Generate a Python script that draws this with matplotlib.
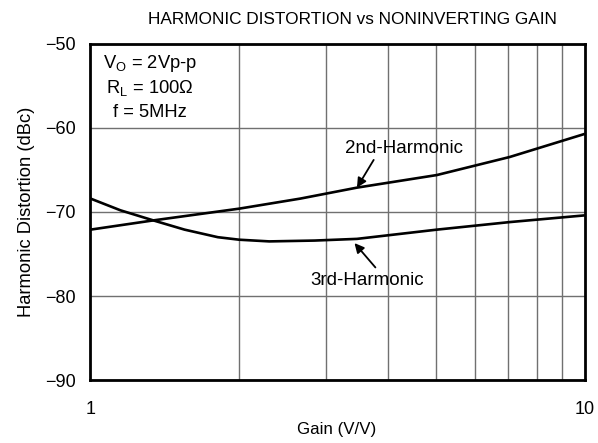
import matplotlib
matplotlib.use('Agg')
import matplotlib.pyplot as plt
from matplotlib.ticker import FixedLocator, FixedFormatter, NullFormatter

plt.rcParams['font.family'] = ['Liberation Sans', 'DejaVu Sans']
plt.rcParams['mathtext.fontset'] = 'custom'
plt.rcParams['mathtext.rm'] = 'Liberation Sans'
plt.rcParams['mathtext.it'] = 'Liberation Sans:italic'

# values
gain_2nd = [1, 1.34, 2, 2.66, 3.46, 5.02, 7.05, 10]
hd2 = [-72.1, -71.0, -69.6, -68.4, -67.1, -65.6, -63.45, -60.7]

gain_3rd = [1, 1.15, 1.34, 1.55, 1.81, 2, 2.3, 2.84, 3.46, 5.02, 7.05, 10]
hd3 = [-68.4, -69.8, -71.0, -72.1, -73.0, -73.3, -73.5, -73.4, -73.2, -72.1, -71.2, -70.4]

x_ticks = [1, 10]
x_ticklabels = ['1', '10']
y_ticks = [-90, -80, -70, -60, -50]
y_ticklabels = ['\u221290', '\u221280', '\u221270', '\u221260', '\u221250']

fig = plt.figure(figsize=(5.98, 4.43), dpi=100)
ax = fig.add_axes([0.1513, 0.1422, 0.8267, 0.7585])

ax.plot(gain_2nd, hd2, color='black', lw=1.9, solid_capstyle='butt')
ax.plot(gain_3rd, hd3, color='black', lw=1.9, solid_capstyle='butt')

ax.set_xscale('log')
ax.set_xlim(1, 10)
ax.set_ylim(-90, -50)
ax.xaxis.set_major_locator(FixedLocator(x_ticks))
ax.xaxis.set_major_formatter(FixedFormatter(x_ticklabels))
ax.xaxis.set_minor_locator(FixedLocator([2, 3, 4, 5, 6, 7, 8, 9]))
ax.xaxis.set_minor_formatter(NullFormatter())
ax.set_yticks(y_ticks)
ax.set_yticklabels(y_ticklabels)
ax.tick_params(which='both', length=0, labelsize=13, colors='black')
ax.tick_params(axis='x', pad=15)
ax.tick_params(axis='y', pad=10.5)

ax.grid(True, which='minor', axis='x', color='#707070', lw=1.0)
ax.grid(True, which='major', axis='y', color='#707070', lw=1.0)
for s in ax.spines.values():
    s.set_linewidth(2.0)

fig.text(352 / 598, 1 - 20 / 443, 'HARMONIC DISTORTION vs NONINVERTING GAIN',
         ha='center', va='center', fontsize=12.4)
ax.set_xlabel('Gain (V/V)', fontsize=12.2)
ax.xaxis.set_label_coords(0.498, -0.125)
ax.set_ylabel('Harmonic Distortion (dBc)', fontsize=13.2)
ax.yaxis.set_label_coords(-0.113, 0.5)

ax.text(1.32, -52.3, r'V$_{\mathrm{O}}$ = 2Vp-p', ha='center', va='center', fontsize=13.2)
ax.text(1.32, -55.2, r'R$_{\mathrm{L}}$ = 100$\Omega$', ha='center', va='center', fontsize=13.2)
ax.text(1.32, -58.1, 'f = 5MHz', ha='center', va='center', fontsize=13.2)

arrow = dict(arrowstyle='-|>', color='black', lw=1.3, mutation_scale=14, shrinkA=0, shrinkB=0)
ax.text(4.30, -62.5, '2nd-Harmonic', ha='center', va='center', fontsize=13.5)
ax.annotate('', xy=(3.46, -67.1), xytext=(3.74, -63.8), arrowprops=arrow)
ax.text(3.63, -78.2, '3rd-Harmonic', ha='center', va='center', fontsize=13.5)
ax.annotate('', xy=(3.42, -73.7), xytext=(3.77, -76.6), arrowprops=arrow)

fig.savefig('out.png', dpi=100)
